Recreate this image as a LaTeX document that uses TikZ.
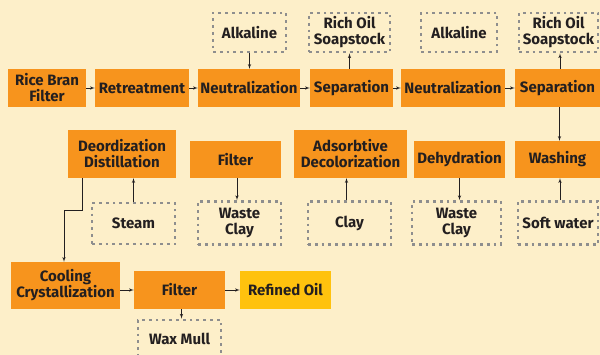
\documentclass[tikz,border=0pt]{standalone}
\usepackage{fontspec}
\setmainfont{Fira Sans}
\usetikzlibrary{shapes,arrows,backgrounds,calc}
\definecolor{cream}{HTML}{FDEFC9}
\definecolor{procorange}{HTML}{F7941D}
\definecolor{oilyellow}{HTML}{FFC20E}
\definecolor{dotgray}{HTML}{8E8E8E}
\definecolor{inkdark}{HTML}{231F20}
\tikzstyle{block} = [rectangle, fill=procorange, text=inkdark,
    font=\bfseries\fontsize{15}{16}\selectfont, align=center, inner sep=0pt]
\tikzstyle{feed} = [rectangle, draw=dotgray, line width=2.8pt,
    dash pattern=on 2.8pt off 4pt, text=inkdark,
    font=\bfseries\fontsize{15}{16}\selectfont, align=center, inner sep=0pt]
\tikzstyle{line} = [draw, -latex', inkdark, line width=0.6pt]

\begin{document}
\begin{tikzpicture}[x=1pt, y=-1pt]
  % background and page size
  \fill[cream] (0,0) rectangle (600,355);
  \useasboundingbox (0,0) rectangle (600,355);

  % Place nodes: first row
  \node [block, minimum width=78pt, minimum height=38pt] (ricebran) at (47,88) {Rice Bran\\Filter};
  \node [block, minimum width=94pt, minimum height=38pt] (retreat) at (142,88) {Retreatment};
  \node [block, minimum width=102pt, minimum height=38pt] (neutA) at (249,88) {Neutralization};
  \node [block, minimum width=83pt, minimum height=38pt] (sepA) at (351.5,88) {Separation};
  \node [block, minimum width=104pt, minimum height=38pt] (neutB) at (453,88) {Neutralization};
  \node [block, minimum width=85pt, minimum height=38pt] (sepB) at (557.5,88) {Separation};

  % inputs and outputs above
  \node [feed, minimum width=73pt, minimum height=39pt] (alkA) at (249.5,32.5) {Alkaline};
  \node [feed, minimum width=81pt, minimum height=39pt] (soapA) at (349.5,32.5) {Rich Oil\\Soapstock};
  \node [feed, minimum width=76pt, minimum height=39pt] (alkB) at (459,32.5) {Alkaline};
  \node [feed, minimum width=79pt, minimum height=39pt] (soapB) at (558.5,32.5) {Rich Oil\\Soapstock};

  % second row
  \node [block, minimum width=108pt, minimum height=48pt] (deord) at (122,154) {Deordization\\Distillation};
  \node [block, minimum width=91pt, minimum height=37pt] (filterA) at (235.5,159.5) {Filter};
  \node [block, minimum width=113pt, minimum height=48pt] (adsorb) at (350.5,154) {Adsorbtive\\Decolorization};
  \node [block, minimum width=91pt, minimum height=37pt] (dehyd) at (459.5,159.5) {Dehydration};
  \node [block, minimum width=85pt, minimum height=37pt] (washing) at (557.5,159.5) {Washing};

  % inputs and outputs below
  \node [feed, minimum width=83pt, minimum height=41pt] (steam) at (133.5,223.5) {Steam};
  \node [feed, minimum width=83pt, minimum height=43pt] (wasteA) at (239.5,223) {Waste\\Clay};
  \node [feed, minimum width=83pt, minimum height=43pt] (clay) at (349.5,223) {Clay};
  \node [feed, minimum width=89pt, minimum height=43pt] (wasteB) at (456.5,223) {Waste\\Clay};
  \node [feed, minimum width=80pt, minimum height=43pt] (softwater) at (558,223) {Soft water};

  % last row
  \node [block, minimum width=109pt, minimum height=47pt] (cooling) at (65.5,285.5) {Cooling\\Crystallization};
  \node [block, minimum width=91pt, minimum height=38pt] (filterB) at (179.5,290) {Filter};
  \node [block, fill=oilyellow, minimum width=91pt, minimum height=38pt] (refined) at (285.5,290) {Refined Oil};
  \node [feed, minimum width=83pt, minimum height=38pt] (waxmull) at (179.5,339) {Wax Mull};

  % Draw edges
  \path [line] (ricebran) -- (retreat);
  \path [line] (retreat) -- (neutA);
  \path [line] (neutA) -- (sepA);
  \path [line] (sepA) -- (neutB);
  \path [line] (neutB) -- (sepB);

  \path [line] (alkA.south) -- (alkA.south |- neutA.north);
  \path [line] (soapA.south |- sepA.north) -- (soapA.south);
  \path [line] ([xshift=1.5pt]soapB.south |- sepB.north) -- ([xshift=1.5pt]soapB.south);
  \path [line] ([xshift=2pt]sepB.south) -- ([xshift=2pt]sepB.south |- washing.north);

  \path [line] (steam.north) -- (steam.north |- deord.south);
  \path [line] ([xshift=1.5pt]filterA.south) -- ([xshift=1.5pt]filterA.south |- wasteA.north);
  \path [line] ([xshift=-3pt]clay.north) -- ([xshift=-3pt]clay.north |- adsorb.south);
  \path [line] (dehyd.south) -- (dehyd.south |- wasteB.north);
  \path [line] ([xshift=2pt]softwater.north) -- ([xshift=2pt]softwater.north |- washing.south);

  \path [line] ([xshift=14pt]deord.south west) -- ++(0,32) -| ([xshift=-1.5pt]cooling.north);
  \path [line] (cooling.east |- filterB) -- (filterB.west);
  \path [line] (filterB) -- (refined);
  \path [line] ([xshift=2pt]filterB.south) -- ([xshift=2pt]filterB.south |- waxmull.north);
\end{tikzpicture}
\end{document}
